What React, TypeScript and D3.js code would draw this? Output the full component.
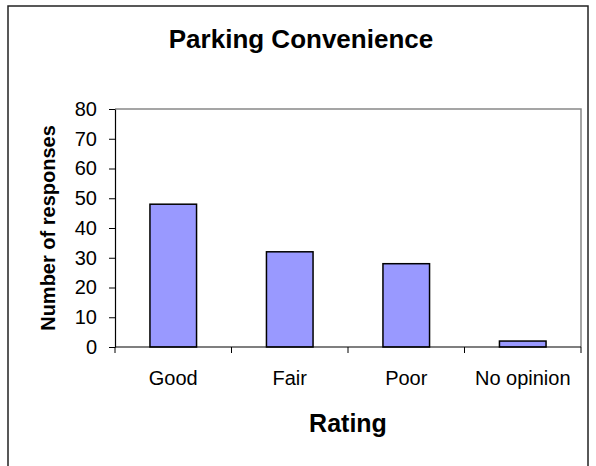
import React, { useEffect, useRef } from 'react';
import * as d3 from 'd3';

const categories = ['Good', 'Fair', 'Poor', 'No opinion'];
const responses = [48, 32, 28, 2];
const yTicks = [0, 10, 20, 30, 40, 50, 60, 70, 80];

const W = 596, H = 466;

const App = () => {
  const ref = useRef<SVGSVGElement | null>(null);

  useEffect(() => {
    if (!ref.current) return;
    const svg = d3.select(ref.current);
    svg.selectAll('*').remove();

    const plot = { left: 115, right: 581, top: 109, bottom: 347 };
    const font = 'Liberation Sans, Arial, sans-serif';

    // outer chart frame (bottom edge runs off the page)
    svg.append('rect')
      .attr('x', 8).attr('y', 6)
      .attr('width', 580).attr('height', 500)
      .attr('fill', '#fff')
      .attr('stroke', '#222')
      .attr('stroke-width', 1.5);

    const x = d3.scaleBand()
      .domain(categories)
      .range([plot.left, plot.right])
      .paddingInner(0.6)
      .paddingOuter(0.3);

    const y = d3.scaleLinear()
      .domain([0, 80])
      .range([plot.bottom, plot.top]);

    // plot area border: grey top and right
    svg.append('path')
      .attr('d', `M${plot.left},${plot.top}H${plot.right}V${plot.bottom}`)
      .attr('fill', 'none')
      .attr('stroke', '#888')
      .attr('stroke-width', 1.5);

    svg.selectAll('.bar')
      .data(responses)
      .enter()
      .append('rect')
      .attr('class', 'bar')
      .attr('x', (d, i) => x(categories[i])!)
      .attr('y', d => y(d))
      .attr('width', x.bandwidth())
      .attr('height', d => y(0) - y(d))
      .attr('fill', '#9999ff')
      .attr('stroke', '#000')
      .attr('stroke-width', 1.5);

    // y axis
    const yAxis = svg.append('g')
      .attr('transform', `translate(${plot.left},0)`)
      .call(d3.axisLeft(y).tickValues(yTicks).tickSize(6).tickPadding(12).tickSizeOuter(0));
    yAxis.select('.domain').attr('stroke', '#000').attr('stroke-width', 1.2);
    yAxis.selectAll('line').attr('stroke', '#000');
    yAxis.selectAll('text')
      .style('font-family', font)
      .style('font-size', '20px')
      .attr('fill', '#000');

    // x axis: ticks on the category boundaries
    const step = x.step();
    const boundaries = d3.range(categories.length + 1).map(i => plot.left + i * step);
    const xAxis = svg.append('g');
    xAxis.append('line')
      .attr('x1', plot.left).attr('x2', plot.right)
      .attr('y1', plot.bottom).attr('y2', plot.bottom)
      .attr('stroke', '#000').attr('stroke-width', 1.2);
    xAxis.selectAll('.xtick')
      .data(boundaries)
      .enter()
      .append('line')
      .attr('x1', d => d).attr('x2', d => d)
      .attr('y1', plot.bottom).attr('y2', plot.bottom + 6)
      .attr('stroke', '#000');
    xAxis.selectAll('.xlabel')
      .data(categories)
      .enter()
      .append('text')
      .attr('x', d => x(d)! + x.bandwidth() / 2)
      .attr('y', 385)
      .attr('text-anchor', 'middle')
      .style('font-family', font)
      .style('font-size', '20px')
      .text(d => d);

    svg.append('text')
      .attr('x', 301).attr('y', 48)
      .attr('text-anchor', 'middle')
      .style('font-family', font)
      .style('font-size', '26px')
      .style('font-weight', 'bold')
      .text('Parking Convenience');

    svg.append('text')
      .attr('x', (plot.left + plot.right) / 2).attr('y', 432)
      .attr('text-anchor', 'middle')
      .style('font-family', font)
      .style('font-size', '25px')
      .style('font-weight', 'bold')
      .text('Rating');

    svg.append('text')
      .attr('transform', `translate(55,${(plot.top + plot.bottom) / 2}) rotate(-90)`)
      .attr('text-anchor', 'middle')
      .style('font-family', font)
      .style('font-size', '20px')
      .style('font-weight', 'bold')
      .text('Number of responses');
  }, []);

  return (
    <svg ref={ref} width={W} height={H}
      style={{ position: 'absolute', left: 0, top: 0, background: '#fff' }} />
  );
};

export default App;
